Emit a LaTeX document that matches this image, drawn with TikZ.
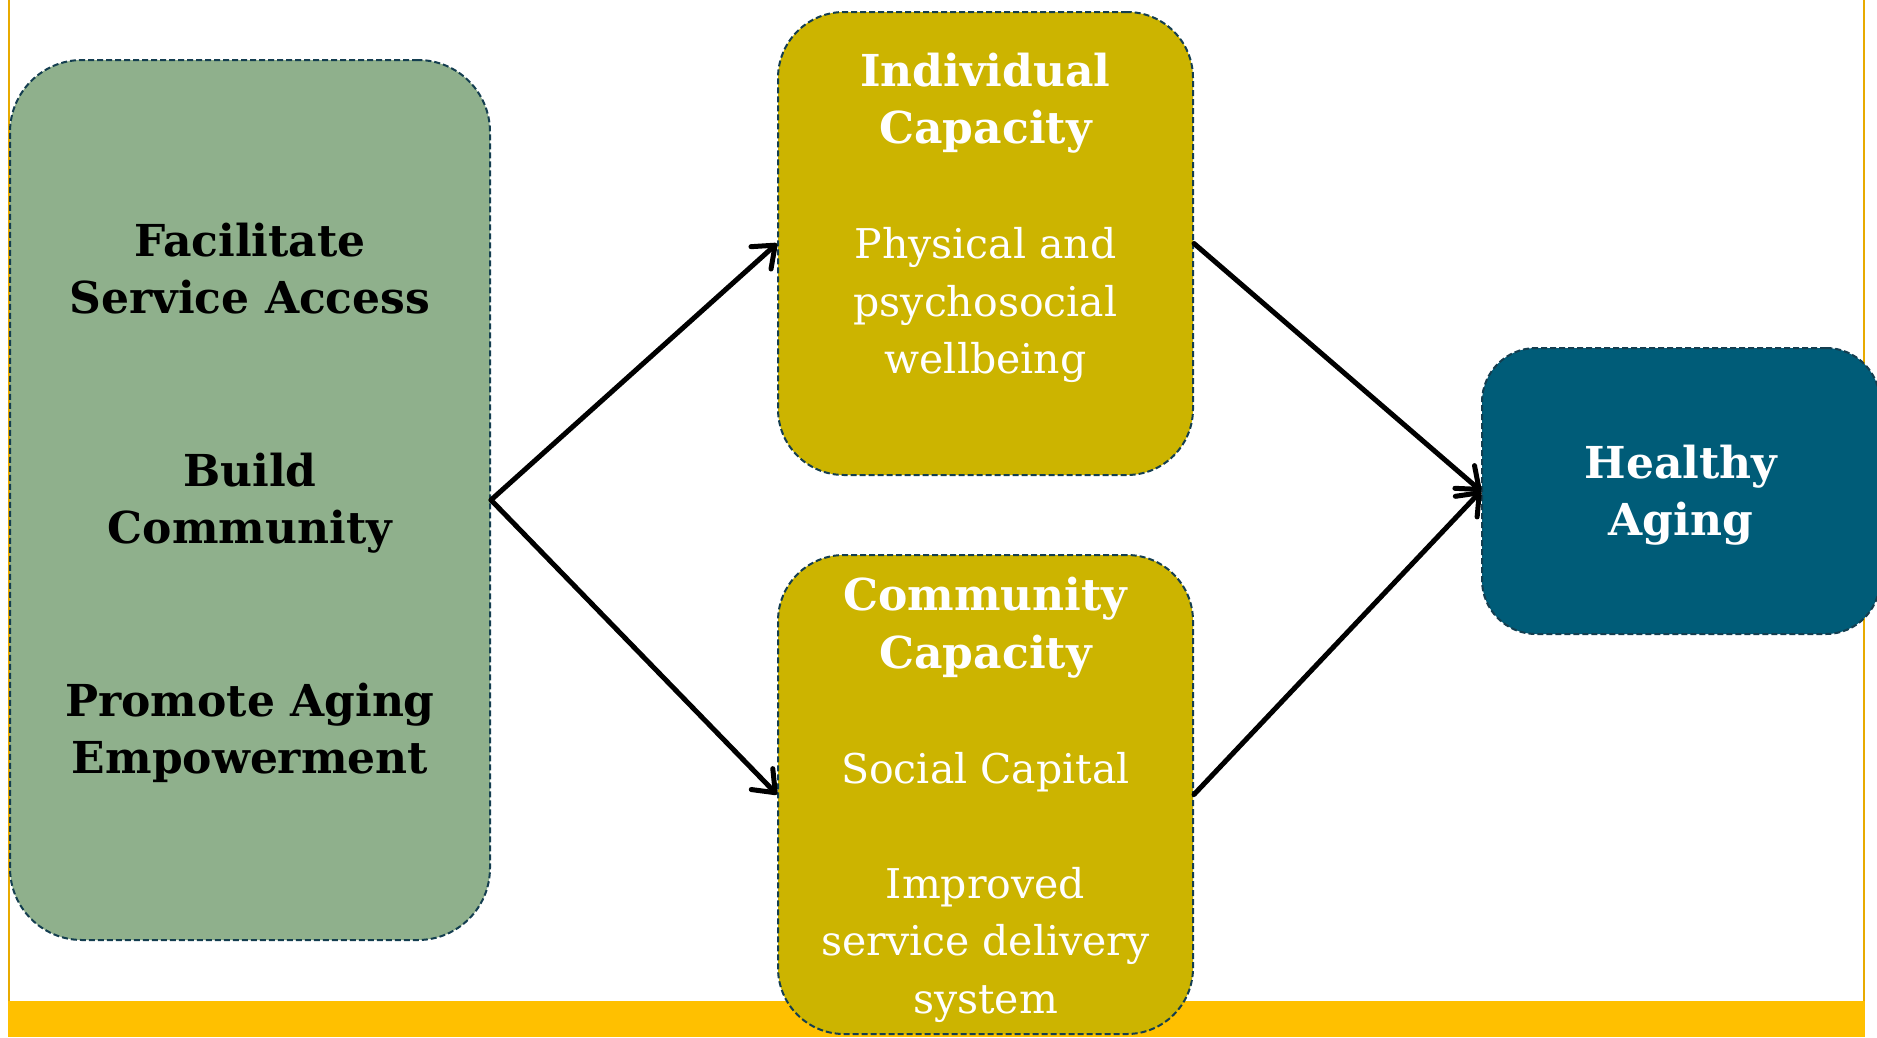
\documentclass[tikz,border=0pt]{standalone}
\usepackage{fontspec}
\setmainfont{DejaVu Serif}
\usetikzlibrary{arrows.meta}
\definecolor{greenfill}{HTML}{8FB08C}
\definecolor{olivefill}{HTML}{CCB400}
\definecolor{tealfill}{HTML}{005C78}
\definecolor{dashcol}{HTML}{143E50}
\definecolor{barcol}{HTML}{FFC000}
\definecolor{framecol}{HTML}{E8AA00}
\newcommand{\bt}[1]{{\fontsize{44}{57.5}\selectfont\bfseries #1}}
\tikzset{
  box/.style={draw=dashcol, line width=2pt, dash pattern=on 6pt off 3pt, rectangle, inner sep=0pt},
  txt/.style={align=center, font=\fontsize{41}{57.5}\selectfont, inner sep=0pt},
  conn/.style={line width=5pt, line cap=round, -{Straight Barb[length=19pt,width=30pt,line width=5pt,round]}},
}
\begin{document}
\begin{tikzpicture}[x=1pt,y=-1pt]
\useasboundingbox (0,0) rectangle (1877,1037);
\fill[white] (0,0) rectangle (1877,1037);
% frame lines and bottom bar
\draw[framecol, line width=2pt] (9,0) -- (9,1002);
\draw[framecol, line width=2pt] (1864,0) -- (1864,1002);
\fill[barcol] (8,1001) rectangle (1865,1037);
% boxes
\node[box, fill=greenfill, rounded corners=72pt, minimum width=480pt, minimum height=880pt] (act) at (250,500) {};
\node[box, fill=olivefill, rounded corners=66pt, minimum width=415pt, minimum height=463pt] (ind) at (985.5,243.5) {};
\node[box, fill=olivefill, rounded corners=66pt, minimum width=415pt, minimum height=479pt] (com) at (985.5,794.5) {};
\node[box, fill=tealfill, rounded corners=54pt, minimum width=398pt, minimum height=286pt] (hea) at (1681,491) {};
% texts
\node[txt, text=black] (actT) at (250,503) {\bt{Facilitate}\\\bt{Service Access}\\[115pt]\bt{Build}\\\bt{Community}\\[115pt]\bt{Promote Aging}\\\bt{Empowerment}};
\node[txt, text=white] (indT) at (985.5,218) {\bt{Individual}\\\bt{Capacity}\\[57.5pt]Physical and\\psychosocial\\wellbeing};
\node[txt, text=white] (comT) at (985.5,800) {\bt{Community}\\\bt{Capacity}\\[57.5pt]Social Capital\\[57.5pt]Improved\\service delivery\\system};
\node[txt, text=white] (heaT) at (1681,495) {\bt{Healthy}\\\bt{Aging}};
% connectors
\draw[conn] (act.east) -- (ind.west);
\draw[conn] (act.east) -- (com.west);
\draw[conn] (ind.east) -- (hea.west);
\draw[conn] (com.east) -- (hea.west);
\end{tikzpicture}
\end{document}
